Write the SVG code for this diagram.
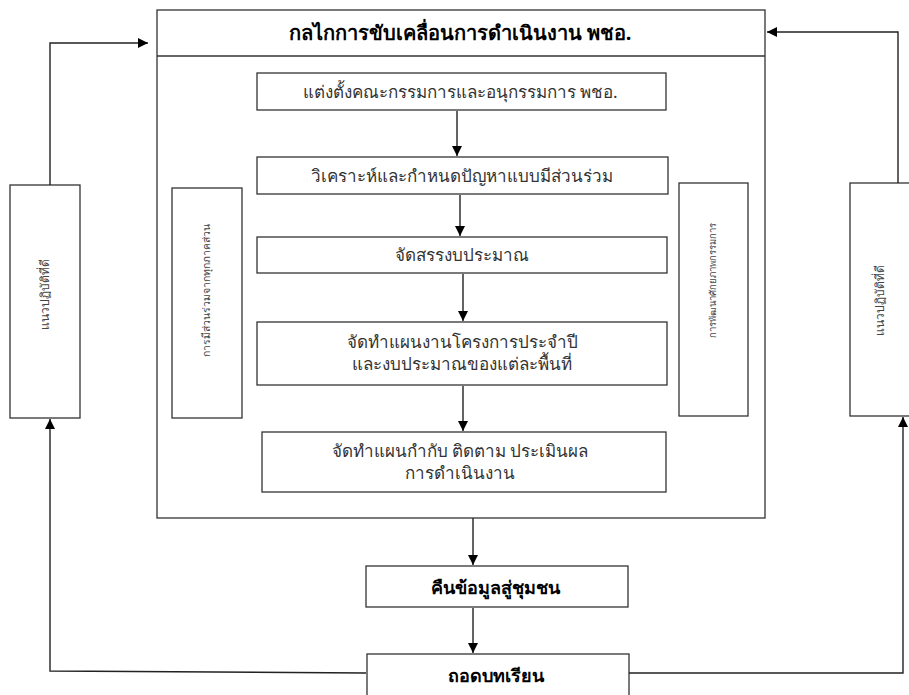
<svg xmlns="http://www.w3.org/2000/svg" width="909" height="695" viewBox="0 0 909 695">
<defs>
<marker id="ah" viewBox="0 0 10 10" refX="10" refY="5" markerWidth="10" markerHeight="10" markerUnits="userSpaceOnUse" orient="auto">
<path d="M0,0 L10,5 L0,10 z" fill="#000"/>
</marker>
</defs>
<style>
.box{fill:#fff;stroke:#333;stroke-width:1.3}
.t{font-family:"Noto Sans","DejaVu Sans",sans-serif;font-size:17px;fill:#333;text-anchor:middle}
.b{font-family:"Noto Sans","DejaVu Sans",sans-serif;font-size:20px;font-weight:bold;fill:#000;text-anchor:middle}
.v{font-family:"Noto Sans","DejaVu Sans",sans-serif;font-size:12px;fill:#444;text-anchor:middle}
.c{fill:none;stroke:#222;stroke-width:1.4}
</style>
<rect width="909" height="695" fill="#fff"/>
<g id="main">
<rect class="box" x="157" y="10" width="608" height="508"/>
<line x1="157" y1="56" x2="765" y2="56" stroke="#333" stroke-width="1.3"/>
<text class="b" x="460" y="40">กลไกการขับเคลื่อนการดำเนินงาน พชอ.</text>
</g>
<g id="n1"><rect class="box" x="257" y="73" width="409" height="37"/><text class="t" x="460" y="98">แต่งตั้งคณะกรรมการและอนุกรรมการ พชอ.</text></g>
<g id="n2"><rect class="box" x="257" y="157" width="411" height="37"/><text class="t" x="462" y="182">วิเคราะห์และกำหนดปัญหาแบบมีส่วนร่วม</text></g>
<g id="n3"><rect class="box" x="257" y="237" width="410" height="36"/><text class="t" x="462" y="261">จัดสรรงบประมาณ</text></g>
<g id="n4"><rect class="box" x="257" y="322" width="410" height="63"/><text class="t" x="462" y="348">จัดทำแผนงานโครงการประจำปี</text><text class="t" x="462" y="370">และงบประมาณของแต่ละพื้นที่</text></g>
<g id="n5"><rect class="box" x="262" y="432" width="404" height="60"/><text class="t" x="460" y="457">จัดทำแผนกำกับ ติดตาม ประเมินผล</text><text class="t" x="460" y="479">การดำเนินงาน</text></g>
<g id="p1"><rect class="box" x="172" y="188" width="70" height="230"/><text class="v" style="font-size:10.4px" transform="translate(210,290) rotate(-90)">การมีส่วนร่วมจากทุกภาคส่วน</text></g>
<g id="p2"><rect class="box" x="679" y="183" width="69" height="233"/><text class="v" style="font-size:9.5px" transform="translate(716,280) rotate(-90)">การพัฒนาศักยภาพกรรมการ</text></g>
<g id="g1"><rect class="box" x="10" y="185" width="70" height="233"/><text class="v" transform="translate(49,294) rotate(-90)">แนวปฏิบัติที่ดี</text></g>
<g id="g2"><rect class="box" x="850" y="183" width="70" height="233"/><text class="v" transform="translate(884,300) rotate(-90)">แนวปฏิบัติที่ดี</text></g>
<g id="r1"><rect class="box" x="366" y="566" width="262" height="41"/><text class="b" x="495" y="594" style="font-size:18px">คืนข้อมูลสู่ชุมชน</text></g>
<g id="r2"><rect class="box" x="367" y="654" width="262" height="45"/><text class="b" x="496" y="682" style="font-size:18px">ถอดบทเรียน</text></g>
<g id="connectors">
<line class="c" x1="457" y1="111" x2="457" y2="156" marker-end="url(#ah)"/>
<line class="c" x1="460" y1="195" x2="460" y2="236" marker-end="url(#ah)"/>
<line class="c" x1="463" y1="274" x2="463" y2="321" marker-end="url(#ah)"/>
<line class="c" x1="463" y1="386" x2="463" y2="431" marker-end="url(#ah)"/>
<line class="c" x1="473" y1="518" x2="473" y2="565" marker-end="url(#ah)"/>
<line class="c" x1="473" y1="608" x2="473" y2="653" marker-end="url(#ah)"/>
<polyline class="c" points="50,185 50,43 148,43" marker-end="url(#ah)"/>
<polyline class="c" points="898,183 898,32 767,32" marker-end="url(#ah)"/>
<polyline class="c" points="366,673 50,671 50,419" marker-end="url(#ah)"/>
<polyline class="c" points="629,673 903,673 903,417" marker-end="url(#ah)"/>
</g>
</svg>
